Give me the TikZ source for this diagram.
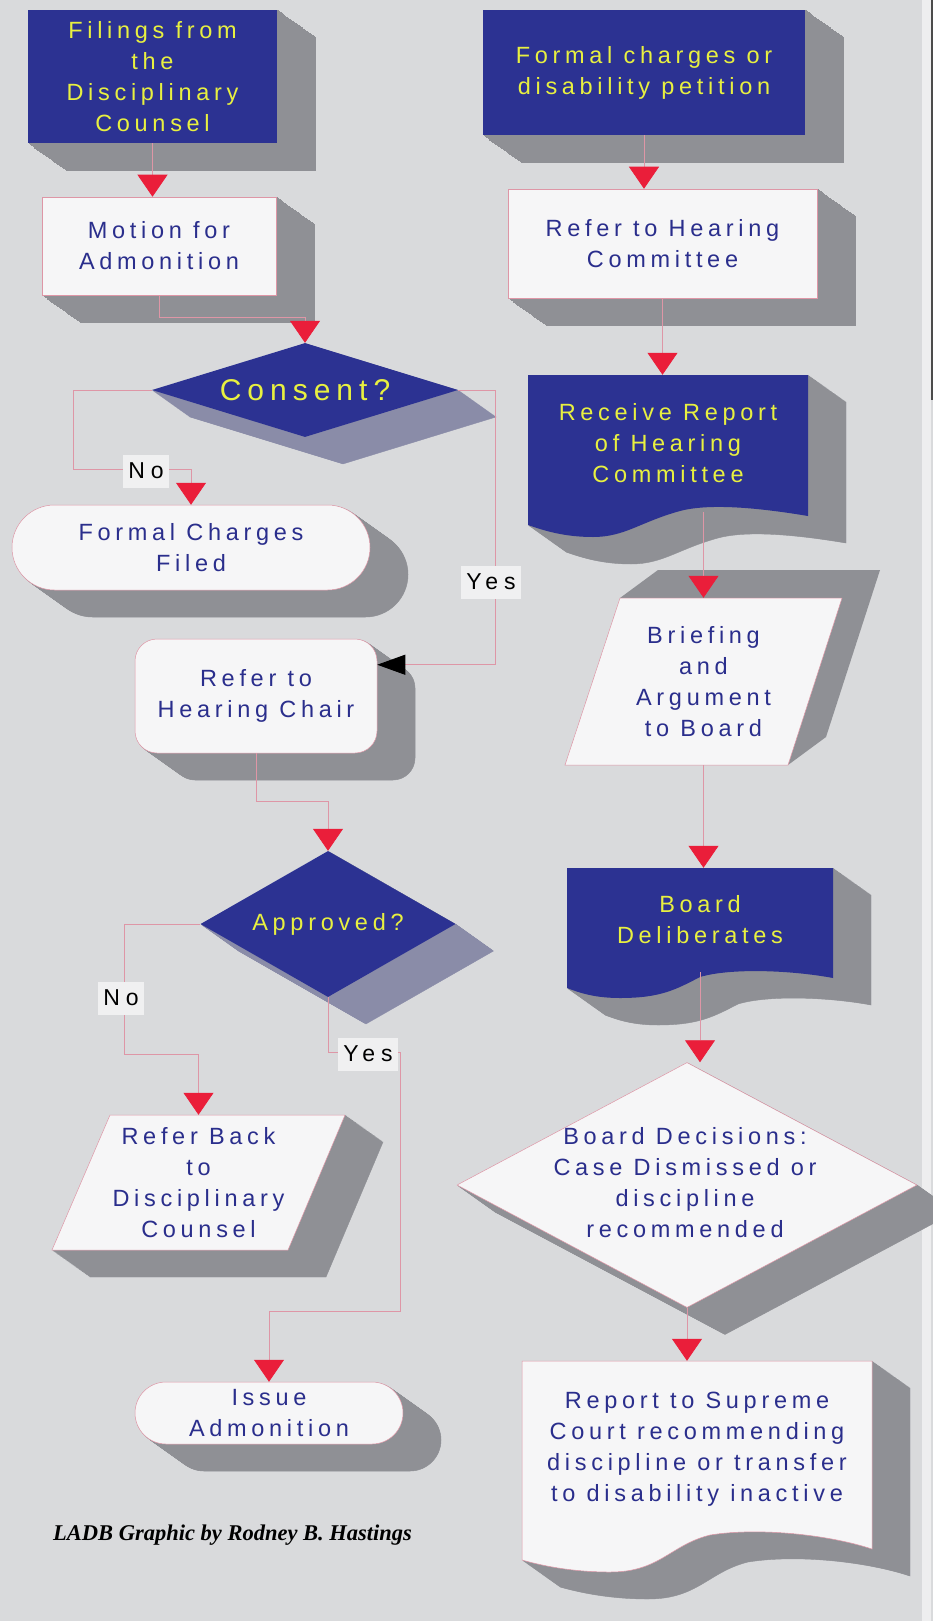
\documentclass[tikz,border=0pt]{standalone}
\usepackage{fontspec}
\setmainfont{Liberation Sans}[LetterSpace=20]
\newfontfamily\creditfont{Liberation Serif}
\usetikzlibrary{shapes.geometric}
\usetikzlibrary{arrows.meta}
\usetikzlibrary{calc}

\definecolor{paper}{RGB}{217,218,220}
\definecolor{edgewhite}{RGB}{238,238,239}
\definecolor{boxblue}{RGB}{44,50,146}
\definecolor{boxyellow}{RGB}{232,240,64}
\definecolor{boxwhite}{RGB}{246,246,247}
\definecolor{textblue}{RGB}{42,46,140}
\definecolor{shadegray}{RGB}{143,144,149}
\definecolor{shadelav}{RGB}{138,140,168}
\definecolor{linkpink}{RGB}{222,150,166}
\definecolor{tipred}{RGB}{234,30,58}
\definecolor{labelwhite}{RGB}{240,240,241}

\newcommand\boxtext{\fontsize{23.5}{31}\selectfont}
\newcommand\bigbox{\fontsize{30}{34}\selectfont}
\newcommand\labeltext{\fontsize{23}{26}\selectfont\addfontfeature{LetterSpace=25}}

% the grey side of every block: copies of the path pushed down and right
\def\extrudekeys{}
\foreach \k in {1,...,40}{\xdef\extrudekeys{\extrudekeys preaction={depth fill,transform canvas={shift={(\k*0.95pt,-\k*0.675pt)}}},}}
\tikzset{
  depth fill/.style={fill=shadegray,draw=shadegray},
  extrude/.style/.expanded={\extrudekeys},
}

\begin{document}
\begin{tikzpicture}[x=1pt,y=-1pt,
  every node/.style={inner sep=0pt,align=center,font=\boxtext},
  blueblock/.style={fill=boxblue,text=boxyellow,extrude},
  whiteblock/.style={fill=boxwhite,draw=linkpink,line width=0.5pt,text=textblue,extrude},
  flow/.style={draw=linkpink,line width=0.8pt,-{Triangle[width=30pt,length=22pt,color=tipred]}},
  yesflow/.style={draw=linkpink,line width=0.8pt,-{Triangle[width=20pt,length=28pt,color=black]}},
  yesno/.style={fill=labelwhite,text=black,inner xsep=5pt,minimum height=33pt,font=\labeltext}]
\useasboundingbox (0,0) rectangle (933,1621);
\fill[paper] (0,0) rectangle (933,1621);
\fill[edgewhite] (922,0) rectangle (931,1621);
\fill[black!70] (931,0) rectangle (933,400);

% left column
\node[blueblock,minimum width=249pt,minimum height=133pt] (filings) at (152.5,76.5) {Filings from\\the\\Disciplinary\\Counsel};
\node[whiteblock,minimum width=234pt,minimum height=98pt] (motion) at (159,246) {Motion for\\Admonition};
\node[blueblock,diamond,aspect=3.2,minimum width=306pt,minimum height=94pt,font=\bigbox,depth fill/.style={fill=shadelav,draw=shadelav}] (consent) at (305,390) {Consent?};
\node[whiteblock,rounded corners=42.5pt,minimum width=358pt,minimum height=85pt] (ffc) at (191,547.5) {Formal Charges\\Filed};
\node[whiteblock,rounded corners=22pt,minimum width=242pt,minimum height=114pt] (chair) at (256,696) {Refer to\\Hearing Chair};
\node[blueblock,diamond,aspect=1.75,minimum width=255pt,minimum height=146pt,depth fill/.style={fill=shadelav,draw=shadelav}] (approved) at (328,924) {Approved?};
\path[whiteblock] (110,1115) -- (345,1115) -- (288,1250) -- (52,1250) -- cycle;
\node[text=textblue,minimum width=236pt,minimum height=135pt] (back) at (198.5,1182.5) {Refer Back\\to\\Disciplinary\\Counsel};
\node[whiteblock,rounded corners=31pt,minimum width=268pt,minimum height=62pt] (issue) at (269,1413) {Issue\\Admonition};

% right column
\node[blueblock,minimum width=322pt,minimum height=125pt] (formal) at (644,72.5) {Formal charges or\\disability petition};
\node[whiteblock,minimum width=309pt,minimum height=109pt] (hcom) at (662.5,243.5) {Refer to Hearing\\Committee};
\path[blueblock] (528,375) -- (808,375) -- (808,516) .. controls (760,508) and (710,503) .. (680,511) .. controls (640,522) and (625,537) .. (593,537) .. controls (565,537) and (545,531) .. (528,525) -- cycle;
\node[text=boxyellow,minimum width=280pt,minimum height=137pt] (rcv) at (668,443.5) {Receive Report\\of Hearing\\Committee};
\fill[shadegray] (620,598) -- (658,570) -- (880,570) -- (826,737) -- (788,765) -- cycle;
\path[fill=boxwhite,draw=linkpink,line width=0.5pt] (620,598) -- (842,598) -- (788,765) -- (565,765) -- cycle;
\node[text=textblue,minimum width=222pt,minimum height=167pt] (brief) at (703.5,681.5) {Briefing\\and\\Argument\\to Board};
\path[blueblock] (567,868) -- (833,868) -- (833,978) .. controls (790,970) and (730,968) .. (700,977) .. controls (675,990) and (660,998) .. (620,998) .. controls (595,998) and (580,993) .. (567,988) -- cycle;
\node[text=boxyellow,minimum width=266pt,minimum height=104pt] (board) at (700,920) {Board\\Deliberates};
\node[whiteblock,diamond,minimum width=460pt,minimum height=245pt] (dec) at (687,1185) {};
\node[text=textblue] (dectext) at (685,1183) {Board Decisions:\\Case Dismissed or\\discipline\\recommended};
\path[whiteblock] (522,1361) -- (872,1361) -- (872,1549) .. controls (830,1535) and (760,1527) .. (710,1535) .. controls (670,1545) and (660,1572) .. (610,1572) .. controls (570,1572) and (540,1565) .. (522,1560) -- cycle;
\node[text=textblue,minimum width=350pt,minimum height=176pt] (rep) at (697,1449) {Report to Supreme\\Court recommending\\discipline or transfer\\to disability inactive};

% connectors
\draw[flow] (filings.south) -- (filings.south |- motion.north);
\draw[flow] (motion.south) -- ++(0,22) -| (consent.north);
\draw[flow] (consent.west) -- ++(-78,0) |- ($(ffc.north)+(0,-35)$) -- (ffc.north);
\draw[yesflow] (consent.east) -- ++(37,0) |- ($(chair.north east)+(0,26)$);
\draw[flow] (chair.south) -- ++(0,48) -| (approved.north);
\draw[flow] (approved.west) -- ++(-76,0) |- ($(back.north)+(0,-60)$) -- (back.north);
\draw[flow] (approved.south) -- ++(0,55) -- ++(72,0) |- ($(issue.north)+(0,-70)$) -- (issue.north);
\draw[flow] (formal.south) -- (formal.south |- hcom.north);
\draw[flow] (hcom.south) -- (hcom.south |- rcv.north);
\draw[flow] (rcv.south -| brief.north) -- (brief.north);
\draw[flow] (brief.south) -- (brief.south |- board.north);
\draw[flow] (board.south) -- (board.south |- dec.north);
\draw[flow] (dec.south) -- (dec.south |- rep.north);

\node[yesno] (no1) at (146,471) {No};
\node[yesno] (yes1) at (491,582) {Yes};
\node[yesno] (no2) at (121,998) {No};
\node[yesno] (yes2) at (368,1054) {Yes};

\node[anchor=west,font=\creditfont\bfseries\itshape\fontsize{22.5}{26}\selectfont] (credit) at (53,1535) {LADB Graphic by Rodney B. Hastings};
\end{tikzpicture}
\end{document}
